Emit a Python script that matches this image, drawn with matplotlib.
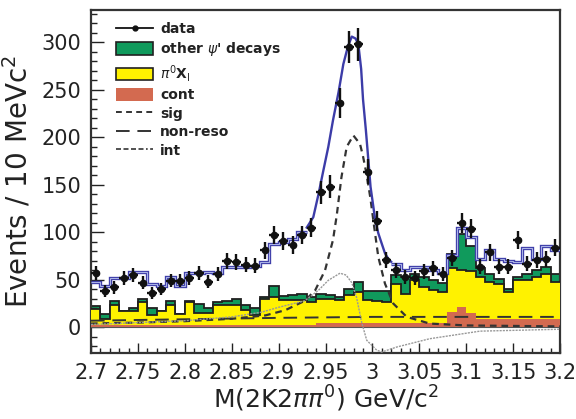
import numpy as np
import matplotlib
matplotlib.use("Agg")
import matplotlib.pyplot as plt
from matplotlib.lines import Line2D
from matplotlib.patches import Patch

plt.rcParams['font.family'] = ['DejaVu Sans']
plt.rcParams['mathtext.fontset'] = 'dejavusans'

# ---------------- data ----------------
x_min, x_max, bin_w = 2.70, 3.20, 0.01
n_bins = 50

data_counts = [57, 38, 42, 52, 55, 47, 36, 40, 49, 49,
               52, 57, 48, 56, 70, 69, 66, 65, 81, 97,
               91, 87, 97, 105, 142, 148, 236, 295, 298, 164,
               112, 71, 60, 53, 52, 59, 62, 56, 73, 110,
               104, 64, 79, 64, 64, 92, 67, 71, 72, 84]
data_err = [7.5, 6.2, 6.5, 7.2, 7.4, 6.9, 6.0, 6.3, 7.0, 7.0,
            7.2, 7.5, 6.9, 7.5, 8.4, 8.3, 8.1, 8.1, 9.0, 9.8,
            9.5, 9.3, 9.8, 10.2, 11.9, 12.2, 15.4, 17.2, 17.3, 12.8,
            10.6, 8.4, 7.7, 7.3, 7.2, 7.7, 7.9, 7.5, 8.5, 10.5,
            10.2, 8.0, 8.9, 8.0, 8.0, 9.6, 8.2, 8.4, 8.5, 9.2]

other_psi = [22, 14, 28, 17, 20, 29.5, 20, 17, 28, 14,
             28, 25, 20, 27, 28, 30, 23, 20, 32, 43,
             32.6, 33.7, 35.4, 32, 35.4, 33.7, 32, 40.7, 47.7, 38,
             38, 38, 55, 53, 56, 53, 49.5, 46.7, 77.5, 98.6,
             86, 62, 56.5, 51, 40, 53, 56.5, 60, 63, 56.5]
pi0_xi = [19, 9, 24, 17, 17, 26.7, 12.6, 17, 24, 14,
          27, 15, 15, 23, 23, 23, 18, 12.6, 30, 32,
          28.4, 29, 28.4, 26.7, 30, 30, 28.4, 33.7, 37, 29,
          28, 27, 46, 35.5, 49.5, 42, 39, 37, 62, 60,
          59, 53, 47.7, 46, 37, 49.5, 50, 53, 56.5, 47.7]
cont = [2.5] * 24 + [5] * 14 + [16, 21, 15] + [9] * 9

# total fit (blue): histogram-like parts and the smooth peak part
blue_left = [48, 43, 52, 52, 58, 58, 46, 43, 53, 44,
             57, 57, 58, 57, 64, 64, 63, 65, 69, 88,
             90, 93, 100]                      # bins 0..22
blue_right = [67, 60, 63, 63, 60, 57, 76, 105, 95, 72,
              81, 72, 70, 69, 83, 72, 86, 81]  # bins 32..49
blue_peak_x = [2.930, 2.937, 2.9425, 2.9477, 2.953, 2.958, 2.964, 2.969,
               2.974, 2.978, 2.982, 2.985, 2.988, 2.990, 2.993, 2.9957,
               2.998, 3.001, 3.003, 3.0063, 3.010, 3.0134, 3.017, 3.020]
blue_peak_y = [105, 116, 140, 165, 190, 218, 248, 277,
               296, 306, 304, 298, 272, 240, 208, 176,
               148, 127, 113, 99, 88, 78, 72, 69]

sig_x = [2.70, 2.75, 2.80, 2.85, 2.886, 2.907, 2.928, 2.939, 2.9495, 2.958,
         2.962, 2.967, 2.9726, 2.9797, 2.9868, 2.990, 2.994, 2.998, 3.002,
         3.0063, 3.0134, 3.0223, 3.0366, 3.061, 3.10, 3.20]
sig_y = [4, 5, 6.5, 9, 12.6, 18, 28, 39, 60, 92,
         118, 158, 190, 202, 193, 180, 160, 135, 105,
         74, 46, 25, 11, 4, 2, 1]

int_x = [2.70, 2.75, 2.80, 2.85, 2.882, 2.8997, 2.928, 2.9425, 2.953, 2.9655,
         2.972, 2.978, 2.983, 2.9886, 2.994, 3.0046, 3.0099, 3.026, 3.061,
         3.1147, 3.20]
int_y = [3, 5, 7, 11, 16, 21, 28, 39, 49.5, 57,
         55, 47, 32, 5, -13.7, -24, -26, -20.7, -12,
         -4, -2]

nonreso_x = [2.70, 2.80, 2.90, 3.00, 3.20]
nonreso_y = [7, 8.5, 10, 11, 11]

x_ticks = [2.7, 2.75, 2.8, 2.85, 2.9, 2.95, 3.0, 3.05, 3.1, 3.15, 3.2]
x_tick_labels = ['2.7', '2.75', '2.8', '2.85', '2.9', '2.95', '3', '3.05', '3.1', '3.15', '3.2']
y_ticks = [0, 50, 100, 150, 200, 250, 300]

# ---------------- colours ----------------
c_green = '#109a5c'
c_yellow = '#fff200'
c_salmon = '#d36a50'
c_blue = '#3c3ca8'
c_blue_light = '#aab2e6'

edges = x_min + bin_w * np.arange(n_bins + 1)
centers = edges[:-1] + bin_w / 2

fig = plt.figure(figsize=(5.76, 4.19), dpi=100)
ax = fig.add_axes([91 / 576, 1 - 353 / 419, (560 - 91) / 576, (353 - 10) / 419])

# stacked histograms (ROOT style: each drawn from 0)
ax.stairs(other_psi, edges, baseline=0, fill=True, color=c_green, lw=0, zorder=1)
ax.stairs(other_psi, edges, baseline=None, color='#202020', lw=1.3, zorder=2)
ax.stairs(pi0_xi, edges, baseline=0, fill=True, color=c_yellow, lw=0, zorder=3)
ax.stairs(pi0_xi, edges, baseline=None, color='#202020', lw=1.3, zorder=4)
ax.stairs(cont, edges, baseline=0, fill=True, color=c_salmon, lw=0, zorder=5)
ax.axhline(0, color='#555555', lw=0.8, zorder=5.5)

# fit components
ax.plot(nonreso_x, nonreso_y, color='#333333', lw=1.4, ls=(0, (7, 4)), zorder=6)
ax.plot(sig_x, sig_y, color='#333333', lw=1.6, ls=(0, (3, 2.2)), zorder=6)
ax.plot(int_x, int_y, color='#999999', lw=1.0, ls=(0, (1.5, 0.8)), zorder=6)

# total (blue)
ax.stairs(blue_left, edges[0:24], baseline=None, color=c_blue, lw=2.4, zorder=7)
ax.stairs(blue_left, edges[0:24], baseline=None, color=c_blue_light, lw=0.8, zorder=7.1)
ax.stairs(blue_right, edges[32:51], baseline=None, color=c_blue, lw=2.4, zorder=7)
ax.stairs(blue_right, edges[32:51], baseline=None, color=c_blue_light, lw=0.8, zorder=7.1)
ax.plot(blue_peak_x, blue_peak_y, color=c_blue, lw=1.7, zorder=7.2)

# data
ax.errorbar(centers, data_counts, yerr=data_err, xerr=bin_w / 2, fmt='o',
            color='#111111', ms=4.5, elinewidth=1.7, capsize=0, zorder=9)

ax.set_xlim(x_min, x_max)
ax.set_ylim(-27, 334)
ax.set_xticks(x_ticks)
ax.set_xticklabels(x_tick_labels)
ax.set_xticks(np.round(np.arange(2.70, 3.2001, 0.01), 3), minor=True)
ax.set_yticks(y_ticks)
ax.set_yticks(np.arange(-20, 331, 10), minor=True)
ax.tick_params(axis='both', which='both', direction='in', top=False, right=False,
               colors='#222222', labelsize=15, width=1.0)
ax.tick_params(axis='y', which='major', length=9, pad=7)
ax.tick_params(axis='y', which='minor', length=4.5)
ax.tick_params(axis='x', which='major', length=7, pad=7)
ax.tick_params(axis='x', which='minor', length=3.5)
for sp in ax.spines.values():
    sp.set_linewidth(1.6)
    sp.set_color('#333333')

ax.set_xlabel(r'M(2K2$\pi\pi^0$) GeV/c$^2$', fontsize=18, color='#222222', labelpad=1)
ax.set_ylabel(r'Events / 10 MeVc$^2$', fontsize=20, color='#222222', labelpad=6)

handles = [
    Line2D([], [], color='#111111', lw=1.3, marker='o', ms=3.5),
    Patch(facecolor=c_green, edgecolor='#202020', lw=1.2),
    Patch(facecolor=c_yellow, edgecolor='#202020', lw=1.2),
    Patch(facecolor=c_salmon, edgecolor='none'),
    Line2D([], [], color='#333333', lw=1.4, ls=(0, (3, 2.2))),
    Line2D([], [], color='#333333', lw=1.4, ls=(0, (7, 4))),
    Line2D([], [], color='#333333', lw=1.2, ls=(0, (3, 1.5, 3, 1.5, 3, 1.5, 3, 1.5, 1, 1.5))),
]
labels = ['data', r"other $\psi$' decays", r'$\pi^0$X$_{\mathrm{I}}$', 'cont',
          'sig', 'non-reso', 'int']
leg = ax.legend(handles, labels, loc='upper left', bbox_to_anchor=(0.053, 0.965),
                frameon=False, borderpad=0, borderaxespad=0, handlelength=2.7,
                handleheight=1.0, handletextpad=0.5, labelspacing=0.32,
                prop={'size': 10, 'weight': 'bold'})
for t in leg.get_texts():
    t.set_color('#222222')

fig.savefig('out.png', dpi=100)
